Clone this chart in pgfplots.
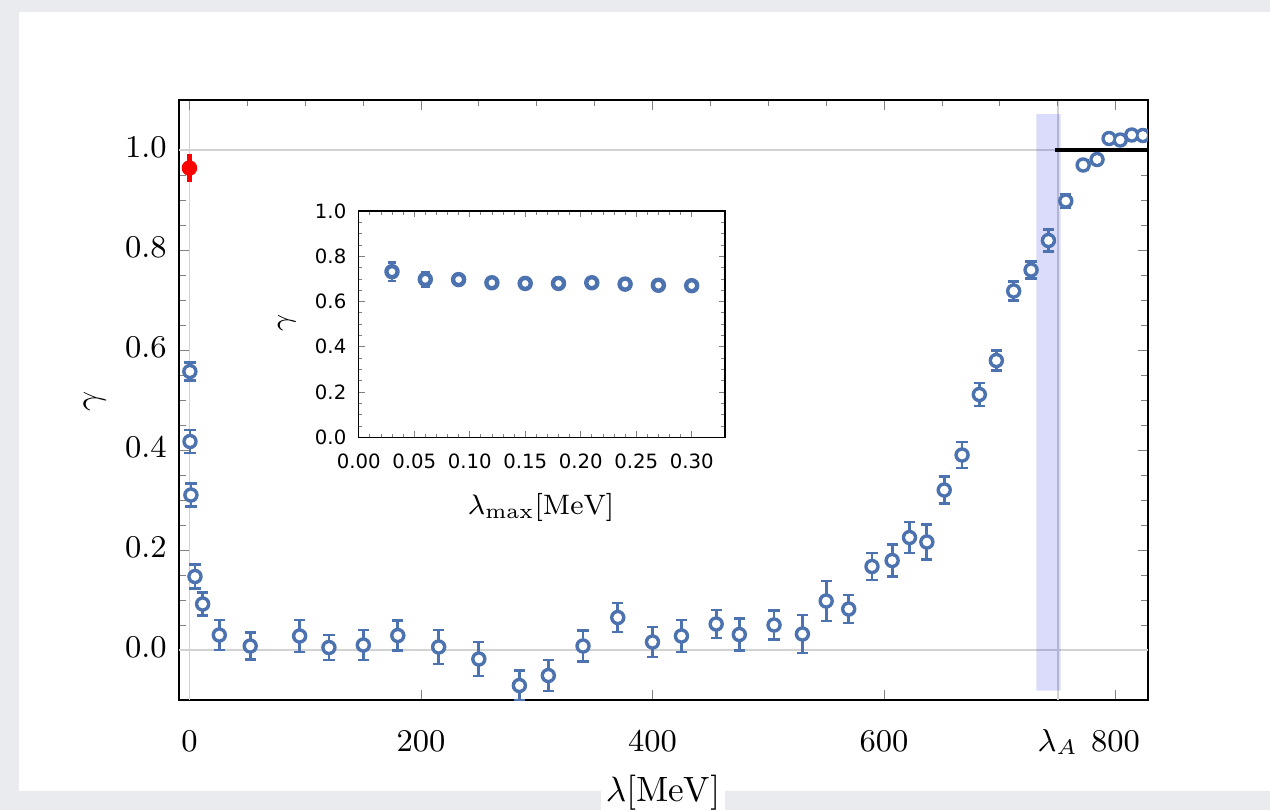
\documentclass[border=0pt]{standalone}
\usepackage{pgfplots}
\pgfplotsset{compat=1.18}
\usepackage{pgfplotstable}
\usepackage{fontspec}
\newfontfamily\dejavu{DejaVu Sans}
\definecolor{bgc}{RGB}{233,235,238}
\definecolor{dblue}{RGB}{76,114,176}
\definecolor{gridc}{RGB}{210,210,210}

\pgfplotstableread{
x y e
0.4 0.557 0.018
0.5 0.417 0.023
1.3 0.310 0.023
4.8 0.147 0.024
11.4 0.092 0.023
25.8 0.030 0.030
52.5 0.008 0.027
95.2 0.028 0.032
120.5 0.005 0.025
150.2 0.010 0.030
180 0.029 0.030
215.3 0.006 0.034
250 -0.018 0.034
285 -0.071 0.030
310 -0.051 0.031
340 0.008 0.031
370 0.065 0.029
400 0.016 0.030
425 0.028 0.032
455 0.052 0.028
475 0.031 0.032
505 0.050 0.029
529.5 0.032 0.038
550 0.098 0.040
569.5 0.082 0.028
589.6 0.167 0.027
607 0.179 0.032
622 0.225 0.031
637 0.216 0.035
652 0.320 0.027
667.4 0.390 0.026
682.3 0.511 0.023
697 0.579 0.020
712 0.718 0.019
727 0.760 0.017
742 0.819 0.022
757 0.898 0.014
772 0.970 0.010
784 0.981 0.005
794.4 1.023 0.004
804 1.020 0.004
814 1.030 0.004
823.6 1.029 0.004
831 1.035 0.004
}\maindata

\pgfplotstableread{
x y e
0.03 0.732 0.040
0.06 0.698 0.032
0.09 0.697 0.022
0.12 0.683 0.010
0.15 0.680 0.008
0.18 0.680 0.008
0.21 0.683 0.008
0.24 0.677 0.008
0.27 0.672 0.008
0.30 0.670 0.008
}\insetdata

\begin{document}
\begin{tikzpicture}
\useasboundingbox (0,0) rectangle (127mm,81mm);
\fill[bgc] (0,0) rectangle (127mm,81mm);
\fill[white] (1.9mm,1.9mm) rectangle (127mm,79.8mm);

% main axis
\begin{axis}[
  at={(17.9mm,11mm)}, anchor=south west,
  scale only axis, width=96.9mm, height=60mm,
  xmin=-9, xmax=828, ymin=-0.1, ymax=1.1,
  axis line style={line width=0.4pt},
  tick align=inside,
  xtick pos=bottom,
  xtick={0,200,400,600,750,800},
  xticklabels={0,200,400,600,$\lambda_A$,800},
  ytick={0,0.2,0.4,0.6,0.8,1.0},
  minor y tick num=3,
  major tick length=1mm, minor tick length=0.65mm,
  yticklabel style={/pgf/number format/.cd,fixed,fixed zerofill,precision=1},
  tick label style={font=\fontsize{9}{10}\selectfont},
  xticklabel style={yshift=-1.4mm},
  typeset ticklabels with strut,
  xlabel={$\lambda[\mathrm{MeV}]$},
  ylabel={$\gamma$},
  every axis x label/.style={at={(axis description cs:0.4995,-0.154)}, anchor=center, fill=white, inner sep=1.3pt, font=\fontsize{10}{12}\selectfont},
  every axis y label/.style={at={(axis description cs:-0.087,0.497)}, anchor=center, rotate=90, font=\fontsize{10}{12}\selectfont},
  clip marker paths=true,
]
\addplot[gridc, line width=0.5pt] coordinates {(-9,1) (828,1)};
\addplot[gridc, line width=0.5pt] coordinates {(-9,0) (828,0)};
\addplot[gridc, line width=0.5pt] coordinates {(0,-0.1) (0,1.1)};
\addplot[gridc, line width=0.5pt] coordinates {(750,-0.1) (750,1.1)};
\addplot[draw=none, fill={rgb,255:red,0;green,0;blue,235}, fill opacity=0.14]
  coordinates {(731.5,-0.081) (752.6,-0.081) (752.6,1.072) (731.5,1.072) (731.5,-0.081)};
\addplot[black, line width=1.2pt] coordinates {(748,1.0) (828,1.0)};
\addplot[color=dblue, only marks, mark=none,
  error bars/.cd, y dir=both, y explicit,
  error bar style={color=dblue, line width=0.8pt},
  error mark options={color=dblue, rotate=90, mark size=1.6pt, line width=0.8pt}]
  table[x=x, y=y, y error=e]{\maindata};
\addplot[color=dblue, only marks, mark=*, mark size=1.6pt, line width=0.6pt,
  mark options={solid, draw=dblue, fill=white, line width=0.6pt}]
  table[x=x, y=y]{\maindata};
\addplot[color=red, only marks, mark=none,
  error bars/.cd, y dir=both, y explicit,
  error bar style={color=red, line width=1.3pt},
  error mark=none]
  coordinates {(0,0.964) +- (0,0.028)};
\addplot[color=red, only marks, mark=*, mark size=1.9pt, mark options={draw=red, fill=red}]
  coordinates {(0,0.964)};
\end{axis}

% top ticks
\begin{axis}[
  at={(17.9mm,11mm)}, anchor=south west,
  scale only axis, width=96.9mm, height=60mm,
  xmin=-9, xmax=828, ymin=-0.1, ymax=1.1,
  axis x line*=top, axis y line=none,
  axis line style={line width=0.4pt, -},
  tick align=inside,
  xtick={0,200,400,600,800},
  minor xtick={50,100,...,800},
  xticklabels={},
  major tick length=1mm, minor tick length=0.65mm,
]
\end{axis}

% inset
\begin{axis}[
  at={(35.87mm,37.27mm)}, anchor=south west,
  scale only axis, width=36.63mm, height=22.63mm,
  xmin=0, xmax=0.33, ymin=0, ymax=1.0,
  axis background/.style={fill=white},
  axis line style={line width=0.4pt},
  tick align=inside,
  xtick={0,0.05,0.10,0.15,0.20,0.25,0.30},
  minor x tick num=4,
  ytick={0,0.2,0.4,0.6,0.8,1.0},
  minor y tick num=3,
  major tick length=0.6mm, minor tick length=0.35mm,
  scaled x ticks=false,
  xlabel={$\lambda_{\max}[\mathrm{MeV}]$},
  ylabel={$\gamma$},
  every axis x label/.style={at={(axis description cs:0.498,-0.312)}, anchor=center, font=\fontsize{8}{9}\selectfont},
  every axis y label/.style={at={(axis description cs:-0.196,0.505)}, anchor=center, rotate=90, font=\fontsize{8}{9}\selectfont},
  tick label style={font=\dejavu\fontsize{5.6}{6}\selectfont},
  xticklabel style={yshift=-0.4mm, /pgf/number format/.cd,fixed,fixed zerofill,precision=2,assume math mode=true},
  yticklabel style={/pgf/number format/.cd,fixed,fixed zerofill,precision=1,assume math mode=true},
]
\addplot[color=dblue, only marks, mark=none,
  error bars/.cd, y dir=both, y explicit,
  error bar style={color=dblue, line width=0.65pt},
  error mark options={color=dblue, rotate=90, mark size=1.2pt, line width=0.65pt}]
  table[x=x, y=y, y error=e]{\insetdata};
\addplot[color=dblue, only marks, mark=*, mark size=1.25pt, line width=0.5pt,
  mark options={solid, draw=dblue, fill=white, line width=0.5pt}]
  table[x=x, y=y]{\insetdata};
\end{axis}
\end{tikzpicture}
\end{document}
